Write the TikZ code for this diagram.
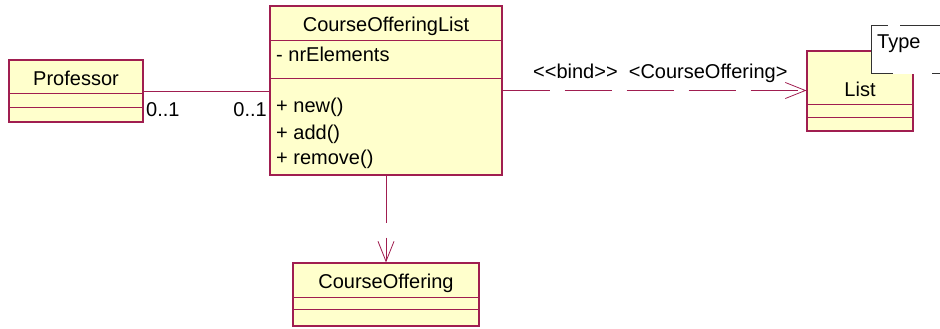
\documentclass[tikz,border=0pt]{standalone}
\usepackage{fontspec}
\setmainfont{Liberation Sans}
\usetikzlibrary{arrows.meta}
\definecolor{umlline}{RGB}{160,30,80}
\definecolor{umlfill}{RGB}{255,255,204}
\definecolor{typeline}{RGB}{50,50,50}
\tikzset{
  classbox/.style={draw=umlline, fill=umlfill, line width=1.2pt, inner sep=0pt, rectangle},
  comp/.style={draw=umlline, line width=1pt},
  txt/.style={inner sep=0pt, font=\fontsize{20}{24}\selectfont},
  conn/.style={draw=umlline, line width=0.8pt},
  dep/.style={conn, dash pattern=on 47pt off 15pt, -{Straight Barb[length=20pt,width=16pt,line width=0.8pt]}},
}
\begin{document}
\begin{tikzpicture}[x=1pt,y=-1pt]
\useasboundingbox (0,0) rectangle (940,329);
\clip (0,0) rectangle (940,329);
% Professor
\node[classbox, minimum width=134pt, minimum height=62pt] (prof) at (76,91) {};
\draw[comp] (9,93) -- (143,93);
\draw[comp] (9,107) -- (143,107);
\node[txt, anchor=base] (proft) at (76,85) {Professor};
% CourseOfferingList
\node[classbox, minimum width=232pt, minimum height=169pt] (col) at (386,90.5) {};
\draw[comp] (270,41) -- (502,41);
\draw[comp] (270,79) -- (502,79);
\node[txt, anchor=base] (colt) at (386,32) {CourseOfferingList};
\node[txt, anchor=base west] (cola) at (276,62) {- nrElements};
\node[txt, anchor=base west] (colm1) at (276,113) {+ new()};
\node[txt, anchor=base west] (colm2) at (276,139) {+ add()};
\node[txt, anchor=base west] (colm3) at (276,164) {+ remove()};
% List
\node[classbox, minimum width=106pt, minimum height=80pt] (list) at (860,91) {};
\draw[comp] (807,104) -- (913,104);
\draw[comp] (807,117) -- (913,117);
\node[txt, anchor=base] (listt) at (860,96) {List};
% Type parameter box
\node[fill=white, minimum width=90pt, minimum height=48pt, inner sep=0pt, anchor=north west] (type) at (871,26) {};
\draw[typeline, line width=1pt] (type.north west) -- (type.south west);
\draw[typeline, line width=1pt] (871,26) -- (888,26) (900,26) -- (961,26);
\draw[typeline, line width=1pt] (871,74) -- (893,74) (932,74) -- (961,74);
\node[txt, anchor=base west] (typet) at (877,49) {Type};
% CourseOffering
\node[classbox, minimum width=186pt, minimum height=63pt] (co) at (386,294.5) {};
\draw[comp] (293,297) -- (479,297);
\draw[comp] (293,309) -- (479,309);
\node[txt, anchor=base] (cot) at (386,288) {CourseOffering};
% association
\draw[conn] (prof.east) -- (prof.east -| col.west);
\node[txt, anchor=base west] (m1) at (146,117) {0..1};
\node[txt, anchor=base east] (m2) at (267,117) {0..1};
% bind dependency
\draw[dep] (col.east) -- (col.east -| list.west);
\node[txt, anchor=base west] (bindt) at (533,78) {<{}<bind>{}>\ \ <CourseOffering>};
% dependency to CourseOffering
\draw[dep] (col.south) -- (co.north);
\end{tikzpicture}
\end{document}
